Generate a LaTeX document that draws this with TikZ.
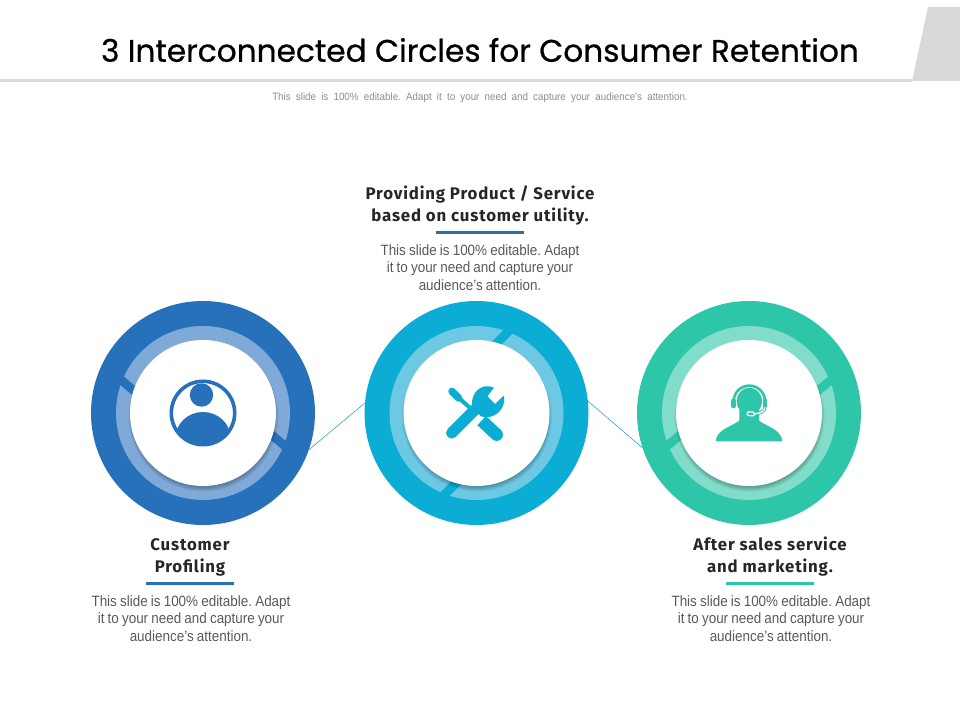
\documentclass[tikz,border=0pt]{standalone}
\usepackage{fontspec}
\setmainfont{Liberation Sans}
\frenchspacing
\newfontfamily\titlefont[FakeBold=0.6]{Poppins}
\newfontfamily\headfont[LetterSpace=5]{Fira Sans}
\newfontfamily\bodyfont[FakeStretch=0.9,WordSpace=0.85]{Liberation Sans}
\newfontfamily\notefont[FakeStretch=0.92,WordSpace=1.9]{Liberation Sans}
\usetikzlibrary{calc}
\definecolor{blueDisc}{HTML}{2770BA}
\definecolor{bluePale}{HTML}{7FA9D7}
\definecolor{cyanDisc}{HTML}{0BADD5}
\definecolor{cyanPale}{HTML}{6CC8E3}
\definecolor{tealDisc}{HTML}{2EC6A8}
\definecolor{tealPale}{HTML}{81DCCA}
\definecolor{headGray}{HTML}{D9D9D9}
\definecolor{barBlue}{HTML}{2C6CA8}
\tikzset{
	disc/.style={circle,fill=#1,inner sep=0pt,minimum size=168pt},
	ringband/.style={circle,fill=#1,inner sep=0pt,minimum size=130.5pt},
	hub/.style={circle,fill=white,inner sep=0pt,minimum size=109.5pt},
	heading/.style={align=center,font=\headfont\bfseries\fontsize{12.6pt}{16.5pt}\selectfont,text=black!85,inner sep=0pt},
	blurb/.style={align=center,font=\bodyfont\fontsize{11.2pt}{13.1pt}\selectfont,text=black!65,inner sep=0pt},
	bar/.style={fill=#1,inner sep=0pt,minimum width=66pt,minimum height=2.4pt},
	link/.style={draw=cyanDisc!85!black,line width=.35pt}
}
\begin{document}
\begin{tikzpicture}[x=.75pt,y=.75pt]
	\useasboundingbox (0,0) rectangle (960,720);
	% header
	\fill[headGray] (0,638) rectangle (912,641);
	\fill[headGray] (928,713)--(960,713)--(960,639)--(912,639)--cycle;
	\node[font=\titlefont\fontsize{23.4pt}{28pt}\selectfont,text=black,inner sep=0pt] (title) at (480,670) {3 Interconnected Circles for Consumer Retention};
	\node[font=\notefont\fontsize{8pt}{9pt}\selectfont,text=black!45,inner sep=0pt] (note) at (480,622) {This slide is 100\% editable. Adapt it to your need and capture your audience’s attention.};
	% discs
	\foreach \name/\cx/\base/\pale/\gap/\tilt in {L/203/blueDisc/bluePale/160/-40,M/476.5/cyanDisc/cyanPale/71/45,R/749/tealDisc/tealPale/20/40}{
		\node[disc=\base] (disc\name) at (\cx,307) {};
		\node[ringband=\pale] (ring\name) at (\cx,307) {};
		\draw[\base,line width=6.6pt] ($(ring\name)+(\gap:80)+(\tilt:-14)$)--($(ring\name)+(\gap:80)+(\tilt:14)$);
		\draw[\base,line width=6.6pt] ($(ring\name)+(\gap+180:80)+(\tilt:-14)$)--($(ring\name)+(\gap+180:80)+(\tilt:14)$);
		\foreach \r in {71,72,73,74,75}{
			\fill[black,opacity=.055] ($(ring\name)+(.5,-3.5)$) circle (\r);
		}
		\node[hub] (hub\name) at (\cx,307) {};
	}
	% links
	\draw[link] (discL.-19)--(discM.175);
	\draw[link] (discM.6)--(discR.198);
	% person
	\begin{scope}[blueDisc]
		\draw[line width=2.7pt] (hubL) circle (31.7);
		\fill (201.5,325) circle (11.7);
		\begin{scope}
			\clip (hubL) circle (31);
			\fill (203,282) ellipse (27.5 and 26);
		\end{scope}
	\end{scope}
	% tools
	\begin{scope}[shift={(440,342)},x=.25pt,y=.25pt,cyanDisc]
		\draw[line width=8.4pt,line cap=round] (35,-165)--(115,-85);
		\fill (162,-29) .. controls (125,-12) and (90,-45) .. (97,-85) -- (122,-115) .. controls (160,-128) and (200,-95) .. (192,-52) -- (165,-78) -- (142,-55) -- cycle;
		\draw[line width=5.6pt,line cap=round] (36,-40)--(56,-60);
		\draw[line width=3pt] (50,-54)--(88,-88);
		\draw[line width=9.4pt] (125,-128)--(170,-170);
		\fill (170,-170) circle (18.8);
	\end{scope}
	% headset
	\begin{scope}[shift={(710,342)},x=.25pt,y=.25pt,tealDisc]
		\fill (17,-190)--(217,-190) .. controls (214,-155) and (175,-148) .. (147,-128) -- (147,-95) -- (88,-95) -- (88,-128) .. controls (60,-148) and (20,-155) .. (17,-190) -- cycle;
		\fill (118,-70) ellipse (38 and 41);
		\draw[line width=2pt] (71,-70) arc (180:0:47);
		\draw[line width=3.6pt,line cap=round] (71,-68)--(71,-84);
		\draw[line width=3.6pt,line cap=round] (165,-68)--(165,-84);
		\draw[line width=2.4pt] (165,-88) .. controls (165,-102) and (145,-108) .. (125,-108);
		\draw[white,line width=1pt] (165,-88) .. controls (165,-102) and (145,-108) .. (125,-108);
		\draw[white,line width=3.8pt,line cap=round] (117,-107)--(128,-108);
		\draw[line width=1.8pt,line cap=round] (117,-107)--(128,-108);
	\end{scope}
	% texts
	\node[heading] (headM) at (480,514) {Providing Product / Service\\based on customer utility.};
	\node[bar=barBlue] (barM) at (480,487.5) {};
	\node[blurb] (textM) at (480,452.5) {This slide is 100\% editable. Adapt\\it to your need and capture your\\audience’s attention.};
	\node[heading] (headL) at (190,163) {Customer\\Profiling};
	\node[bar=blueDisc] (barL) at (190,136.5) {};
	\node[blurb] (textL) at (191,101.5) {This slide is 100\% editable. Adapt\\it to your need and capture your\\audience’s attention.};
	\node[heading] (headR) at (770,163) {After sales service\\and marketing.};
	\node[bar=tealDisc] (barR) at (770,136.5) {};
	\node[blurb] (textR) at (771,101.5) {This slide is 100\% editable. Adapt\\it to your need and capture your\\audience’s attention.};
\end{tikzpicture}
\end{document}
